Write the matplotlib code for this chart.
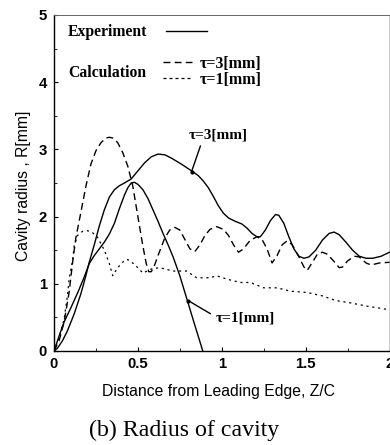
import matplotlib
matplotlib.use("Agg")
import matplotlib.pyplot as plt
from matplotlib.lines import Line2D
from matplotlib.ticker import MultipleLocator

# ---------------- data ----------------
exp3_x = [0, 0.02, 0.05, 0.08, 0.12, 0.16, 0.19, 0.21, 0.24, 0.27, 0.30, 0.33, 0.36,
          0.39, 0.42, 0.46, 0.50, 0.54, 0.58, 0.62, 0.66, 0.70, 0.76, 0.82, 0.86,
          0.89, 0.92, 0.95, 0.98, 1.01, 1.04, 1.08, 1.12, 1.15, 1.18, 1.21, 1.23,
          1.26, 1.29, 1.32, 1.34, 1.37, 1.40, 1.43, 1.46, 1.49, 1.52, 1.56, 1.60,
          1.64, 1.67, 1.70, 1.74, 1.78, 1.82, 1.86, 1.90, 1.95, 2.00]
exp3_y = [0, 0.04, 0.15, 0.30, 0.55, 0.85, 1.12, 1.32, 1.58, 1.86, 2.10, 2.29, 2.40,
          2.46, 2.50, 2.56, 2.68, 2.80, 2.89, 2.93, 2.92, 2.87, 2.78, 2.68, 2.61,
          2.53, 2.43, 2.30, 2.16, 2.05, 1.98, 1.93, 1.89, 1.83, 1.75, 1.70, 1.70,
          1.80, 1.94, 2.03, 2.02, 1.90, 1.70, 1.52, 1.41, 1.38, 1.40, 1.50, 1.65,
          1.75, 1.77, 1.73, 1.62, 1.50, 1.41, 1.38, 1.38, 1.41, 1.47]

exp1_x = [0, 0.03, 0.06, 0.10, 0.14, 0.18, 0.21, 0.24, 0.27, 0.30, 0.33, 0.36, 0.39,
          0.42, 0.44, 0.46, 0.48, 0.50, 0.53, 0.56, 0.59, 0.62, 0.65, 0.68, 0.71,
          0.75, 0.795, 0.84, 0.887]
exp1_y = [0, 0.22, 0.43, 0.64, 0.86, 1.10, 1.30, 1.42, 1.52, 1.62, 1.74, 1.90, 2.12,
          2.32, 2.43, 2.50, 2.51, 2.48, 2.40, 2.27, 2.10, 1.93, 1.75, 1.58, 1.40,
          1.12, 0.75, 0.38, 0.0]

calc3_x = [0, 0.03, 0.06, 0.09, 0.11, 0.13, 0.16, 0.19, 0.22, 0.25, 0.28, 0.31, 0.33,
           0.35, 0.38, 0.41, 0.44, 0.47, 0.50, 0.53, 0.55, 0.565, 0.58, 0.60, 0.62,
           0.66, 0.69, 0.72, 0.75, 0.78, 0.81, 0.84, 0.87, 0.90, 0.93, 0.97, 1.01,
           1.04, 1.07, 1.10, 1.13, 1.17, 1.21, 1.24, 1.27, 1.30, 1.33, 1.36, 1.39,
           1.42, 1.46, 1.49, 1.51, 1.54, 1.57, 1.60, 1.63, 1.67, 1.70, 1.72, 1.75,
           1.79, 1.82, 1.86, 1.89, 1.94, 2.00]
calc3_y = [0, 0.15, 0.43, 0.87, 1.30, 1.68, 2.06, 2.45, 2.78, 2.98, 3.10, 3.17, 3.18,
           3.17, 3.10, 2.95, 2.75, 2.45, 2.00, 1.56, 1.30, 1.18, 1.18, 1.28, 1.42,
           1.68, 1.80, 1.84, 1.80, 1.66, 1.52, 1.48, 1.58, 1.72, 1.81, 1.85, 1.81,
           1.72, 1.58, 1.47, 1.52, 1.65, 1.70, 1.66, 1.52, 1.31, 1.42, 1.58, 1.64,
           1.58, 1.40, 1.25, 1.20, 1.32, 1.44, 1.47, 1.44, 1.33, 1.24, 1.25, 1.34,
           1.41, 1.40, 1.31, 1.28, 1.31, 1.32]

calc1_x = [0, 0.03, 0.06, 0.08, 0.09, 0.11, 0.12, 0.14, 0.17, 0.20, 0.23, 0.26, 0.30,
           0.33, 0.35, 0.38, 0.42, 0.44, 0.48, 0.53, 0.58, 0.63, 0.71, 0.79, 0.85,
           0.93, 0.97, 1.03, 1.11, 1.17, 1.25, 1.33, 1.41, 1.51, 1.60, 1.68, 1.76,
           1.86, 1.96, 2.00]
calc1_y = [0, 0.20, 0.47, 0.82, 1.07, 1.34, 1.56, 1.72, 1.78, 1.79, 1.76, 1.69, 1.50,
           1.30, 1.12, 1.24, 1.35, 1.36, 1.29, 1.16, 1.22, 1.24, 1.19, 1.19, 1.09,
           1.09, 1.12, 1.07, 1.02, 1.02, 0.94, 0.94, 0.89, 0.87, 0.82, 0.75, 0.72,
           0.67, 0.63, 0.61]

x_ticks = [0, 0.5, 1, 1.5, 2]
x_tick_labels = ["0", "0.5", "1", "1.5", "2"]
y_ticks = [0, 1, 2, 3, 4, 5]
y_tick_labels = ["0", "1", "2", "3", "4", "5"]

legend_exp = "Experiment"
legend_calc = "Calculation"
label_t3 = "τ=3[mm]"
label_t1 = "τ=1[mm]"
x_label = "Distance from Leading Edge, Z/C"
y_label = "Cavity radius , R[mm]"
caption = "(b) Radius of cavity"

# ---------------- figure ----------------
SERIF = ["Liberation Serif", "DejaVu Serif"]
SANS = ["Liberation Sans", "DejaVu Sans"]

fig = plt.figure(figsize=(3.9, 4.45), dpi=100)
ax = fig.add_axes([54 / 390, (445 - 351) / 445, 335.5 / 390, 336 / 445])

lw = 1.0
dash3 = (0, (5.0, 3.0))
dot1 = (0, (1.7, 3.0))

ax.plot(exp3_x, exp3_y, color="black", lw=lw)
ax.plot(exp1_x, exp1_y, color="black", lw=lw)
ax.plot(calc3_x, calc3_y, color="black", lw=lw, linestyle=dash3)
ax.plot(calc1_x, calc1_y, color="black", lw=lw * 0.9, linestyle=dot1)

ax.set_xlim(0, 2)
ax.set_ylim(0, 5)
ax.set_xticks(x_ticks)
ax.set_xticklabels(x_tick_labels)
ax.set_yticks(y_ticks)
ax.set_yticklabels(y_tick_labels)
ax.xaxis.set_minor_locator(MultipleLocator(0.25))
ax.yaxis.set_minor_locator(MultipleLocator(0.5))
ax.tick_params(which="major", direction="in", length=3, width=0.8,
               labelsize=10.7, pad=4)
ax.tick_params(which="minor", direction="in", length=2, width=0.6)
ax.tick_params(axis="y", which="major", pad=5)
for lab in ax.get_xticklabels() + ax.get_yticklabels():
    lab.set_fontfamily(SANS)
    lab.set_fontweight("bold")

for s in ["left", "bottom", "right"]:
    ax.spines[s].set_linewidth(1.0)
ax.spines["top"].set_linewidth(0.7)
ax.spines["top"].set_color("#666666")

ax.set_xlabel(x_label, fontsize=11.3, family=SANS)
ax.set_ylabel(y_label, fontsize=11.3, family=SANS)
ax.yaxis.set_label_coords(-(54 - 31) / 335.5, (351 - 185.5) / 336)
ax.xaxis.set_label_coords(0.5 + (218.5 - 221.75) / 335.5, -(384 - 351) / 336)

# legend: Experiment
h_exp = Line2D([], [], color="black", lw=lw)
leg1 = ax.legend([h_exp], [legend_exp], loc="center left",
                 bbox_to_anchor=((68 - 54) / 335.5, (351 - 32) / 336),
                 frameon=False, markerfirst=False, handlelength=2.6,
                 handletextpad=1.2, borderpad=0, borderaxespad=0,
                 prop=dict(family=SERIF, weight="bold", size=11.3))
ax.add_artist(leg1)

h3 = Line2D([], [], color="black", lw=lw, linestyle=dash3)
h1 = Line2D([], [], color="black", lw=lw * 0.9, linestyle=(0, (2.4, 2.4)))
leg2 = ax.legend([h3, h1], [label_t3, label_t1], loc="center left",
                 bbox_to_anchor=((163 - 54) / 335.5, (351 - 72) / 336),
                 frameon=False, handlelength=1.8, handletextpad=0.5,
                 labelspacing=0.0, borderpad=0, borderaxespad=0,
                 prop=dict(family=SERIF, weight="bold", size=11.5))

ax.text((68 - 54) / 335.5, (351 - 73) / 336, legend_calc, transform=ax.transAxes,
        ha="left", va="center", family=SERIF, weight="bold", fontsize=11.3)

# annotations
ax.annotate(label_t3, xy=(0.82, 2.67), xytext=(0.98, 3.21), ha="center", va="center",
            family=SERIF, weight="bold", fontsize=11,
            arrowprops=dict(arrowstyle="-", lw=1.0, color="black",
                            relpos=(0.22, 0.0), shrinkA=1, shrinkB=0))
ax.plot([0.82], [2.67], "o", color="black", ms=2)
ax.annotate(label_t1, xy=(0.80, 0.75), xytext=(1.14, 0.49), ha="center", va="center",
            family=SERIF, weight="bold", fontsize=11,
            arrowprops=dict(arrowstyle="-", lw=1.0, color="black",
                            relpos=(0.0, 0.6), shrinkA=2, shrinkB=0))
ax.plot([0.80], [0.75], "o", color="black", ms=2)

fig.text(184.5 / 390, 1 - 430 / 445, caption, ha="center", va="center",
         family=SERIF, fontsize=17.2)

fig.savefig("out.png", dpi=100)
